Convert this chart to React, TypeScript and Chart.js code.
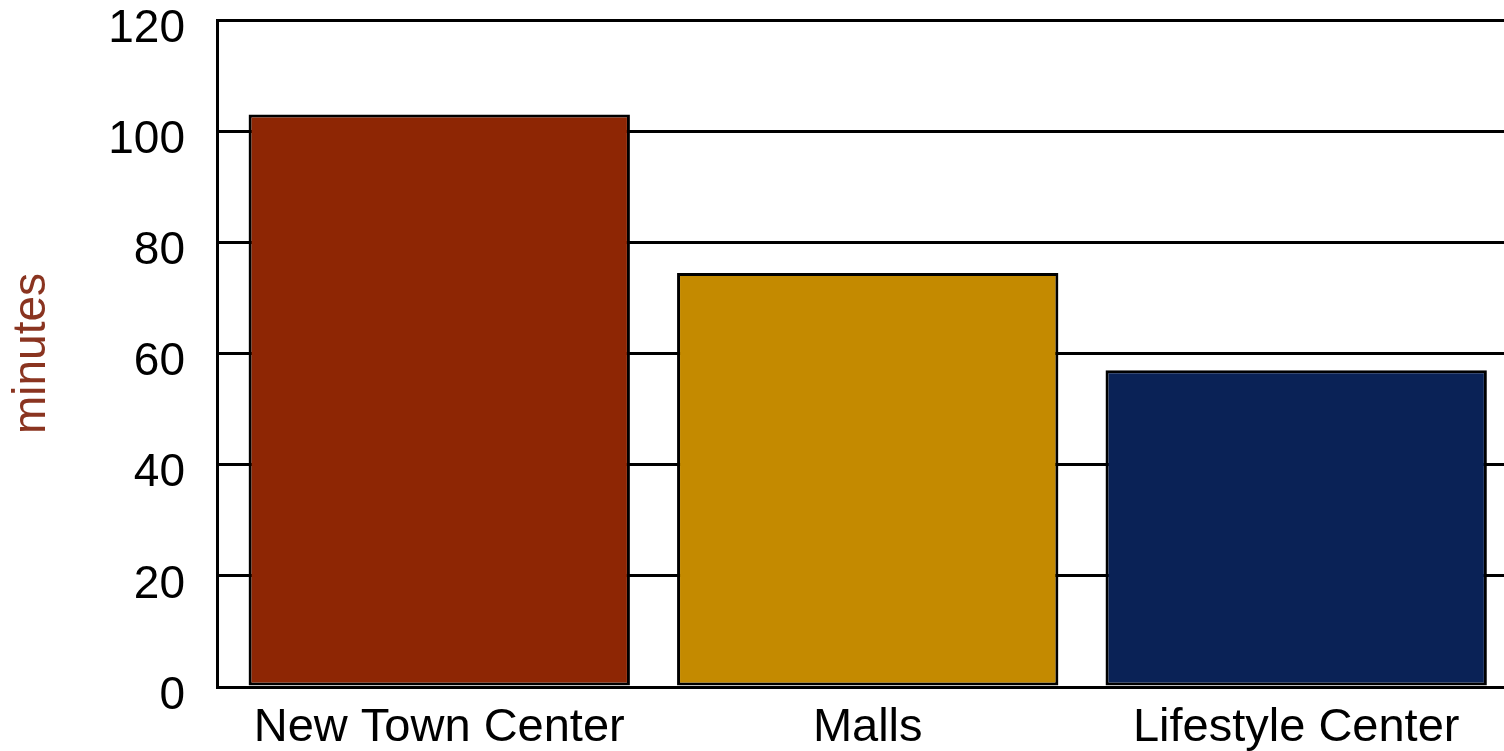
import React, { useEffect, useRef } from "react";
import { Chart, registerables } from "chart.js";

Chart.register(...registerables);

const categories = ["New Town Center", "Malls", "Lifestyle Center"];
const minutes = [103, 74.5, 57];
const barColors = ["#8e2604", "#c48a00", "#0a2256"];
const yMin = 0;
const yMax = 120;
const yStep = 20;

const FONT = "'Liberation Sans', Arial, Helvetica, sans-serif";

export default function App() {
  const ref = useRef<HTMLCanvasElement>(null);

  useEffect(() => {
    const chart = new Chart(ref.current!, {
      type: "bar",
      data: {
        datasets: [
          {
            data: categories.map((_, i) => ({ x: i, y: minutes[i] })),
            backgroundColor: barColors,
            borderColor: "#000000",
            borderWidth: 3,
            borderSkipped: false,
            barPercentage: 0.89,
            categoryPercentage: 1,
          },
        ],
      },
      options: {
        animation: false,
        responsive: false,
        maintainAspectRatio: false,
        layout: { padding: { top: 20, left: 0, right: 0, bottom: 0 } },
        plugins: {
          legend: { display: false },
          tooltip: { enabled: false },
        },
        scales: {
          x: {
            type: "linear",
            offset: false,
            min: -0.5187,
            max: 2.485,
            grid: { display: false, drawTicks: false, offset: false },
            border: { display: true, color: "#000000", width: 3 },
            afterBuildTicks: (s: any) => {
              s.ticks = categories.map((_, i) => ({ value: i }));
            },
            ticks: {
              autoSkip: false,
              maxRotation: 0,
              minRotation: 0,
              padding: 13,
              color: "#000000",
              font: { family: FONT, size: 47 },
              callback: (_v: any, i: number) => categories[i],
            },
            afterFit: (s: any) => {
              s.height = 64;
              s.paddingLeft = 0;
              s.paddingRight = 0;
            },
          },
          y: {
            min: yMin,
            max: yMax,
            grid: { color: "#000000", lineWidth: 3, drawTicks: false },
            border: { display: true, color: "#000000", width: 3 },
            ticks: {
              stepSize: yStep,
              padding: 32,
              labelOffset: 9,
              color: "#000000",
              font: { family: FONT, size: 46 },
            },
            title: {
              display: true,
              text: "minutes",
              color: "#8a3420",
              font: { family: FONT, size: 46 },
              padding: { top: 5, bottom: 0 },
            },
            afterFit: (s: any) => {
              s.width = 217;
              s.paddingTop = 0;
              s.paddingBottom = 0;
            },
          },
        },
      },
    } as any);
    return () => chart.destroy();
  }, []);

  return (
    <div
      style={{
        position: "fixed",
        left: 0,
        top: 0,
        width: 1504,
        height: 751,
        background: "#ffffff",
      }}
    >
      <canvas ref={ref} width={1504} height={751} style={{ display: "block" }} />
    </div>
  );
}
